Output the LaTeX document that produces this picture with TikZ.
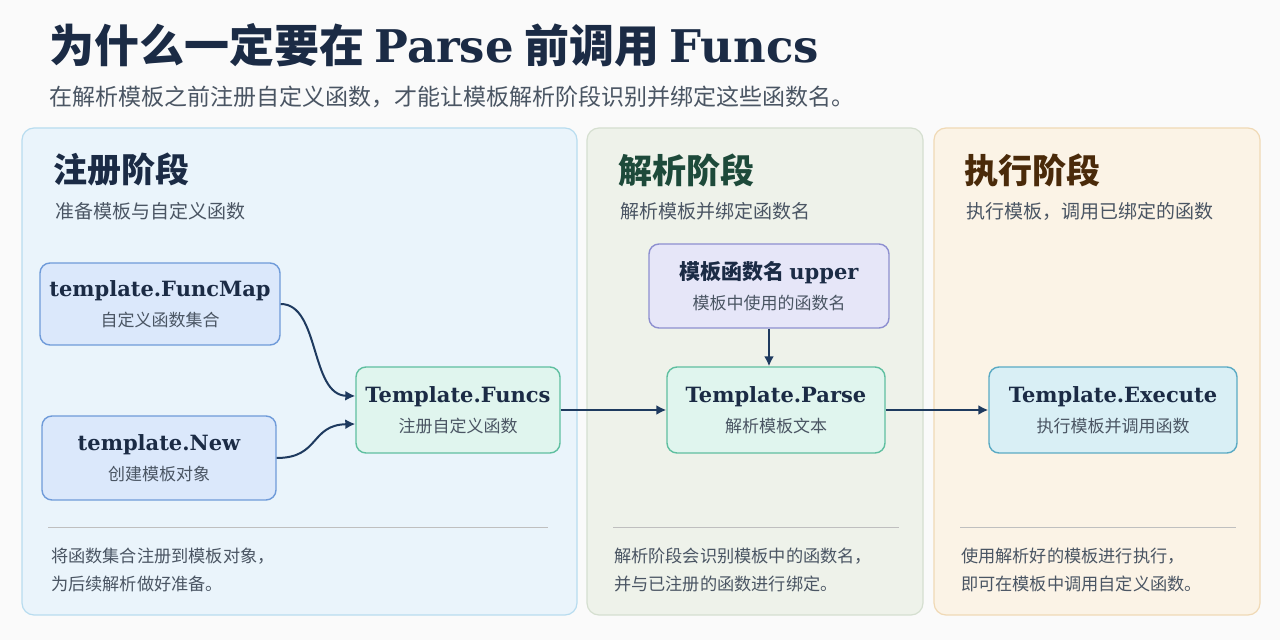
\documentclass[tikz,border=0pt]{standalone}
\usepackage{fontspec}
\setmainfont{Noto Sans CJK SC}
\newfontfamily\lat{DejaVu Serif}
\usetikzlibrary{arrows.meta,positioning}
\definecolor{navy}{HTML}{1B2B45}
\definecolor{txtgray}{HTML}{4A5563}
\definecolor{arrowc}{HTML}{1E3A5F}
\definecolor{pblue}{HTML}{EAF4FB}
\definecolor{pbluedraw}{HTML}{B8DCEF}
\definecolor{pgreen}{HTML}{EEF2EA}
\definecolor{pgreendraw}{HTML}{D5DFD0}
\definecolor{porange}{HTML}{FBF3E6}
\definecolor{porangedraw}{HTML}{F0D9B5}
\definecolor{dgreen}{HTML}{1D4A3A}
\definecolor{dbrown}{HTML}{4A2A0A}
\definecolor{bfill}{HTML}{DBE8FB}
\definecolor{bdraw}{HTML}{6F9BD9}
\definecolor{gfill}{HTML}{E0F5EE}
\definecolor{gdraw}{HTML}{5FBFA0}
\definecolor{pfill}{HTML}{E6E6F8}
\definecolor{pdraw}{HTML}{8D8FD0}
\definecolor{cfill}{HTML}{D9EFF5}
\definecolor{cdraw}{HTML}{5AAAC4}
\tikzset{
  panel/.style={draw, rounded corners=6pt, line width=0.6pt},
  box/.style={draw, rounded corners=5pt, line width=0.7pt, align=center, inner sep=0pt},
  link/.style={-{Latex[length=5pt,width=5pt]}, draw=arrowc, line width=1pt},
  sep/.style={draw=black!25, line width=0.4pt}
}
\newcommand{\boxtext}[2]{{\fontsize{10.5}{13}\selectfont\bfseries\color{navy}#1}\\[3pt]{\fontsize{8.5}{10}\selectfont\color{txtgray}#2}}
\begin{document}
\begin{tikzpicture}[x=0.5pt,y=-0.5pt]
  \useasboundingbox[fill=black!2] (0,0) rectangle (1280,640);
  % title
  \node[anchor=west, text=navy, font=\fontsize{22.5}{26}\selectfont\bfseries] (title) at (42,45) {为什么一定要在 {\lat Parse} 前调用 {\lat Funcs}};
  \node[anchor=west, text=txtgray, font=\fontsize{11.5}{14}\selectfont] (subtitle) at (42,97) {在解析模板之前注册自定义函数，才能让模板解析阶段识别并绑定这些函数名。};
  % panels
  \draw[panel, fill=pblue, draw=pbluedraw] (22,128) rectangle (577,615);
  \draw[panel, fill=pgreen, draw=pgreendraw] (587,128) rectangle (923,615);
  \draw[panel, fill=porange, draw=porangedraw] (934,128) rectangle (1260,615);
  % headers
  \node[anchor=west, text=navy, font=\fontsize{17}{20}\selectfont\bfseries] (h1) at (46,170) {注册阶段};
  \node[anchor=west, text=txtgray, font=\fontsize{9.5}{12}\selectfont] (s1) at (48,211) {准备模板与自定义函数};
  \node[anchor=west, text=dgreen, font=\fontsize{17}{20}\selectfont\bfseries] (h2) at (611,170) {解析阶段};
  \node[anchor=west, text=txtgray, font=\fontsize{9.5}{12}\selectfont] (s2) at (613,211) {解析模板并绑定函数名};
  \node[anchor=west, text=dbrown, font=\fontsize{17}{20}\selectfont\bfseries] (h3) at (957,170) {执行阶段};
  \node[anchor=west, text=txtgray, font=\fontsize{9.5}{12}\selectfont] (s3) at (959,211) {执行模板，调用已绑定的函数};
  % boxes
  \node[box, fill=bfill, draw=bdraw, minimum width=120pt, minimum height=41pt] (funcmap) at (160,304) {\boxtext{\lat template.FuncMap}{自定义函数集合}};
  \node[box, fill=bfill, draw=bdraw, minimum width=117pt, minimum height=42pt] (tnew) at (159,458) {\boxtext{\lat template.New}{创建模板对象}};
  \node[box, fill=gfill, draw=gdraw, minimum width=102pt, minimum height=43pt] (funcs) at (458,410) {\boxtext{\lat Template.Funcs}{注册自定义函数}};
  \node[box, fill=pfill, draw=pdraw, minimum width=120pt, minimum height=42pt] (upper) at (769,286) {\boxtext{模板函数名 {\lat upper}}{模板中使用的函数名}};
  \node[box, fill=gfill, draw=gdraw, minimum width=109pt, minimum height=43pt] (parse) at (776,410) {\boxtext{\lat Template.Parse}{解析模板文本}};
  \node[box, fill=cfill, draw=cdraw, minimum width=124pt, minimum height=43pt] (execute) at (1113,410) {\boxtext{\lat Template.Execute}{执行模板并调用函数}};
  % connectors
  \draw[link] (funcmap.east) .. controls (320,304) and (310,395) .. ([yshift=7pt]funcs.west);
  \draw[link] (tnew.east) .. controls (320,458) and (310,425) .. ([yshift=-7pt]funcs.west);
  \draw[link] (funcs) -- (parse);
  \draw[link] (upper.south) -- (upper.south |- parse.north);
  \draw[link] (parse) -- (execute);
  % footers
  \coordinate (l1a) at (48,527); \coordinate (l1b) at (548,527);
  \coordinate (l2a) at (613,527); \coordinate (l2b) at (899,527);
  \coordinate (l3a) at (960,527); \coordinate (l3b) at (1236,527);
  \draw[sep] (l1a) -- (l1b); \draw[sep] (l2a) -- (l2b); \draw[sep] (l3a) -- (l3b);
  \tikzset{foot/.style={anchor=north west, text=txtgray, align=left, font=\fontsize{8.6}{14}\selectfont}}
  \node[foot] (f1) at (44,541) {将函数集合注册到模板对象，\\为后续解析做好准备。};
  \node[foot] (f2) at (607,541) {解析阶段会识别模板中的函数名，\\并与已注册的函数进行绑定。};
  \node[foot] (f3) at (954,541) {使用解析好的模板进行执行，\\即可在模板中调用自定义函数。};
\end{tikzpicture}
\end{document}
